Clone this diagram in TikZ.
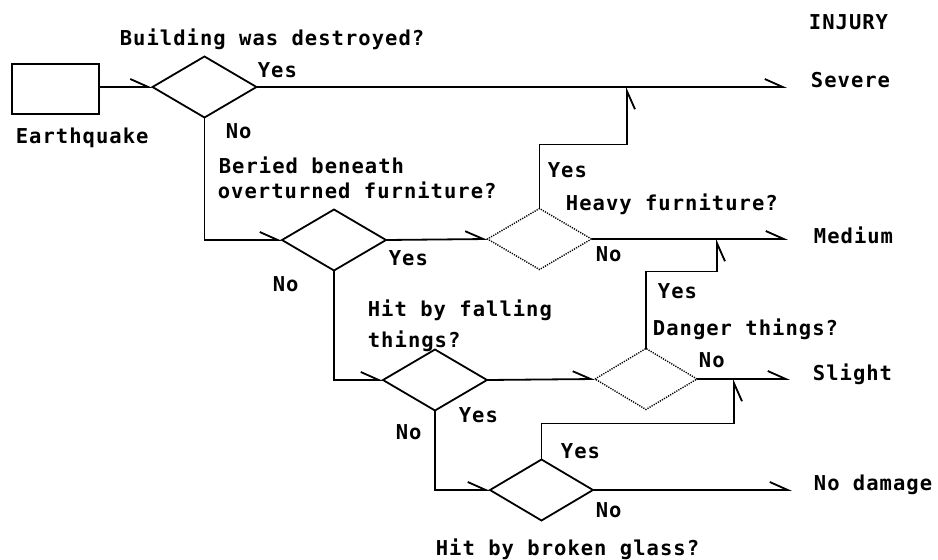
\documentclass[tikz,border=0pt]{standalone}
\usepackage{fontspec}
\newfontfamily\lblfont{DejaVu Sans Mono}[LetterSpace=5.0]
\usetikzlibrary{shapes.geometric,arrows.meta}
\begin{document}
\begin{tikzpicture}[x=1pt,y=-1pt,line width=1.8pt,line join=miter,
  dia/.style={draw,shape=diamond,inner sep=0pt,outer sep=0pt,minimum width=104pt,minimum height=61pt},
  dotdia/.style={dia,line width=1.4pt,dash pattern=on 1.2pt off 1.2pt},
  eqbox/.style={draw,rectangle,minimum width=87pt,minimum height=50pt,inner sep=0pt,outer sep=0pt},
  lbl/.style={anchor=base west,inner sep=0pt,font=\lblfont\bfseries\fontsize{20.5}{24}\selectfont},
  harr/.style={-{Straight Barb[harpoon,length=18pt,width=16pt]}},
  harrs/.style={-{Straight Barb[harpoon,swap,length=18pt,width=16pt]}}]
\useasboundingbox (0,0) rectangle (938,560);
% nodes
\node[eqbox] (eq) at (55.5,89) {};
\node[dia] (d1) at (204.5,87) {};
\node[dia] (d2) at (334,240) {};
\node[dotdia] (d3) at (539.5,239) {};
\node[dotdia,minimum width=102pt] (d4) at (646,379) {};
\node[dia] (d5) at (435,380) {};
\node[dia,minimum width=103pt] (d6) at (541.5,490) {};
% end points
\coordinate (sev) at (787,87);
\coordinate (med) at (788,239);
\coordinate (sli) at (790,379);
\coordinate (nod) at (792,490);
\coordinate (j1) at (627,87);
\coordinate (j2) at (717,239);
\coordinate (j3) at (734,379);
% connectors
\draw[harr] (eq.east |- d1.west) -- (d1.west);
\draw[harr] (d1.east) -- (sev);
\draw[harr] (d1.south) |- (d2.west);
\draw[harr] (d2.east) -- (d3.west);
\draw[harrs] (d3.north) |- ++(87.5,-64) -- (j1);
\draw[harr] (d3.east) -- (med);
\draw[harrs] (d4.north) |- ++(71,-77) -- (j2);
\draw[harr] (d4.east) -- (sli);
\draw[harr] (d2.south) |- (d5.west);
\draw[harr] (d5.east) -- (d4.west);
\draw[harr] (d5.south) |- (d6.west);
\draw[harrs] (d6.north) |- ++(192.5,-36) -- (j3);
\draw[harr] (d6.east) -- (nod);
% labels
\node[lbl] (t1) at (119,45.5) {Building was destroyed?};
\node[lbl] (t2) at (808,29.5) {INJURY};
\node[lbl] (t3) at (257,77.5) {Yes};
\node[lbl] (t4) at (810,87.5) {Severe};
\node[lbl] (t5) at (15,143.5) {Earthquake};
\node[lbl] (t6) at (225,138.5) {No};
\node[lbl] (t7) at (218,173.5) {Beried beneath};
\node[lbl] (t8) at (217,198.5) {overturned furniture?};
\node[lbl] (t9) at (547,177.5) {Yes};
\node[lbl] (t10) at (565,210.5) {Heavy furniture?};
\node[lbl] (t11) at (813,243.5) {Medium};
\node[lbl] (t12) at (595,261.5) {No};
\node[lbl] (t13) at (388,265.5) {Yes};
\node[lbl] (t14) at (272,291.5) {No};
\node[lbl] (t15) at (657,298.5) {Yes};
\node[lbl] (t16) at (367,316.5) {Hit by falling};
\node[lbl] (t17) at (367,347.5) {things?};
\node[lbl] (t18) at (652,335.5) {Danger things?};
\node[lbl] (t19) at (698,367.5) {No};
\node[lbl] (t20) at (812,380.5) {Slight};
\node[lbl] (t21) at (458,422.5) {Yes};
\node[lbl] (t22) at (395,439.5) {No};
\node[lbl] (t23) at (560,458.5) {Yes};
\node[lbl] (t24) at (813,490.5) {No damage};
\node[lbl] (t25) at (595,517.5) {No};
\node[lbl] (t26) at (435,555.5) {Hit by broken glass?};
\end{tikzpicture}
\end{document}
